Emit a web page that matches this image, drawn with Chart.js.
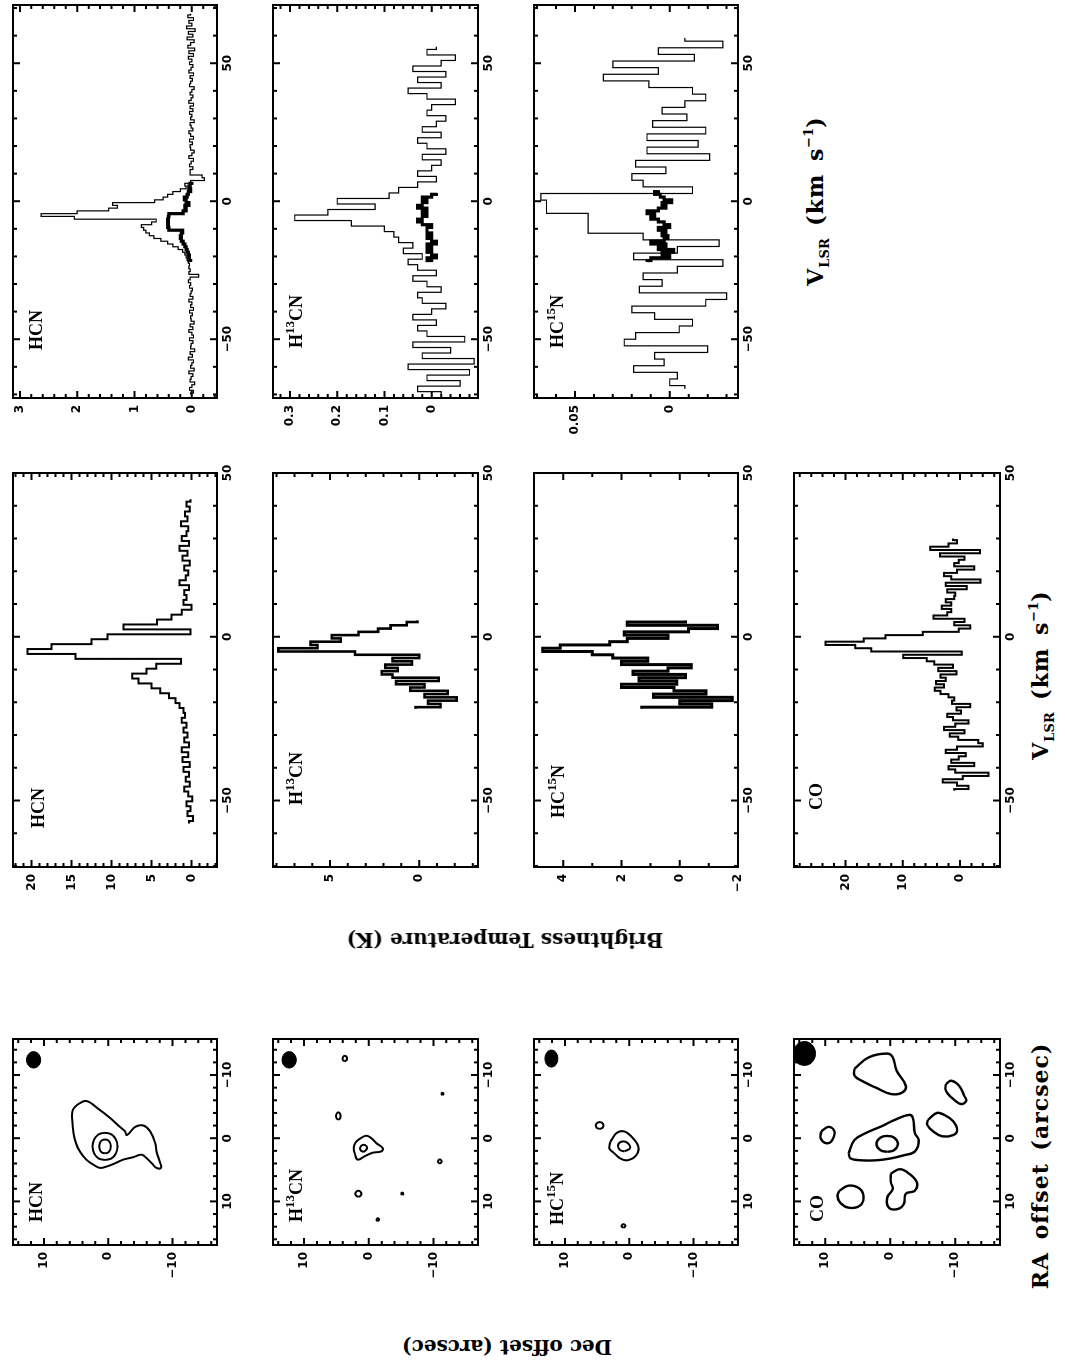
<!DOCTYPE html>
<html lang="en">
<head>
<meta charset="UTF-8">
<title>HCN, H13CN, HC15N and CO: maps and spectra</title>
<script src="https://cdn.jsdelivr.net/npm/chart.js@4.4.0/dist/chart.umd.min.js"></script>
<style>
    html, body { margin: 0; padding: 0; background: #fff; overflow: hidden; }
    /* the figure is laid out landscape and turned a quarter turn */
    #page {
        position: absolute; left: 0; top: 0;
        width: 1361px; height: 1065px; background: #fff;
        transform-origin: 0 0;
        transform: translate(0px, 1361px) rotate(-90deg);
    }
    #page canvas { position: absolute; }
    .tag {
        position: absolute; font-family: "Liberation Serif", serif; font-weight: bold;
        font-size: 18px; line-height: 18px; white-space: nowrap; color: #000;
    }
    .tag sup { font-size: 13px; line-height: 0; position: relative; top: -8px; vertical-align: baseline; }
    .title {
        position: absolute; font-family: "DejaVu Serif", serif; font-weight: bold;
        font-size: 20px; line-height: 24px; white-space: nowrap; color: #000;
    }
    .title.big { font-size: 22px; letter-spacing: 1px; word-spacing: 4px; }
    .title sub { font-size: 13px; line-height: 0; position: relative; top: 6px; vertical-align: baseline; letter-spacing: 0; }
    .title sup { font-size: 13px; line-height: 0; position: relative; top: -10px; vertical-align: baseline; letter-spacing: 0; }
</style>
</head>
<body>
<div id="page"></div>

<script>
    // ---------- spectra: first channel (km/s), channel width, brightness (K) ----------
    const hcnMidStart = -57, hcnMidStep = 1.5;
    const hcnMid = [0.3, -0.2, 0.5, 0.1, 0.6, -0.1, 0.4, 0.9, 0.2, 0.7, 0.3, 1.0, 0.2, 1.1, 0.4, 1.2, 0.3, 0.9, 0.5, 1.0,
        0.6, 1.2, 0.8, 1.0, 1.5, 2.0, 2.8, 3.9, 5.0, 6.6, 7.4, 5.6, 4.4, 1.3, 14.5, 20.5, 17.5, 12.5, 10.5, 0.1,
        8.5, 4.3, 2.5, 1.2, 0.0, 1.0, 0.6, 0.9, 0.3, 1.5, 0.7, 0.4, 0.9, 0.2, 1.1, 0.5, 1.5, 0.3, 1.2, 0.6,
        0.4, 1.3, 0.5, 0.8, 0.2, 0.6, 0.1];

    const h13cnMidStart = -22, h13cnMidStep = 1;
    const h13cnMid = [0.2, -1.2, -0.5, -2.1, -0.3, -1.6, 0.5, -0.3, 1.3, -1.1, 1.5, 2.1, 1.2, 1.9, 0.4, 1.5, 0.0, 3.6, 7.9, 5.7,
        6.1, 4.4, 4.9, 3.4, 2.3, 1.6, 0.7, 0.1];

    const hc15nMidStart = -22, hc15nMidStep = 1;
    const hc15nMid = [1.3, -1.1, 0.0, -1.8, 0.9, -0.9, 0.2, 2.0, 0.1, 1.4, -0.2, 1.6, 0.4, -0.4, 2.0, 1.1, 2.3, 3.0, 4.7, 4.1,
        2.4, 1.8, 0.4, 1.9, -0.3, -1.3, 1.8, -0.2];

    const coMidStart = -47, coMidStep = 1;
    const coMid = [1.0, -1.5, 0.5, 3.0, -0.5, -5.0, 0.8, 2.0, -2.5, 1.5, 0.2, -1.0, 2.5, 0.5, -4.0, -3.2, 0.3, 1.8, -0.8, 2.8,
        0.8, -1.5, 1.2, 2.2, -0.2, 0.6, -1.8, 1.4, 1.0, 2.0, 3.4, 4.4, 2.8, 4.2, 2.5, 3.4, 0.6, 3.8, 1.2,
        4.5, 5.8, 9.9, -0.3, 15.5, 18.3, 23.5, 16.8, 13.0, 6.5, 0.2, -1.8,
        1.0, -0.8, 4.6, 2.2, 1.5, 3.2, 1.5, 2.5, 1.0, 0.8, 2.2, -1.2, 2.5, -3.6, 1.5, 2.8, 0.5, -2.5, 1.0, 0.2,
        -0.8, 3.5, -3.5, 5.2, 2.0, 0.5, 1.2];

    const hcnWideStart = -70, hcnWideStep = 1;
    const hcnWide = [0.02, -0.03, 0.04, 0.00, -0.05, 0.03, 0.01, -0.02, 0.05, -0.04, 0.02, 0.00, -0.03, 0.06, -0.01,
        0.03, -0.05, 0.02, 0.01, -0.02, 0.04, -0.03, 0.00, 0.05, -0.02, 0.03, -0.04, 0.01, 0.02, -0.01,
        0.04, -0.03, 0.02, 0.00, 0.05, -0.02, 0.03, 0.01, -0.01, 0.04, 0.02, 0.06, 0.03, -0.12, 0.05,
        0.03, 0.05, 0.04, 0.06, 0.08, 0.10, 0.12, 0.16, 0.24, 0.33, 0.42, 0.54, 0.66, 0.74, 0.80,
        0.84, 0.88, 0.70, 0.62, 2.05, 2.63, 2.00, 1.45, 1.30, 1.38, 0.65, 0.50, 0.42, 0.33, 0.20,
        0.10, 0.12, 0.02, -0.22, -0.18, 0.03,
        0.03, -0.02, 0.04, 0.01, -0.03, 0.05, 0.00, -0.04, 0.02, 0.03, -0.01, 0.04, -0.03, 0.02, 0.05,
        -0.02, 0.01, 0.03, -0.04, 0.02, 0.00, 0.04, -0.02, 0.03, -0.03, 0.05, 0.01, -0.02, 0.03, 0.00,
        -0.04, 0.04, 0.02, -0.01, 0.03, -0.03, 0.05, 0.01, -0.02, 0.04, 0.00, 0.06, -0.03, 0.05, -0.05,
        0.07, 0.02, -0.04, 0.08, -0.02, 0.06, -0.06, 0.09, 0.00, 0.05, -0.03, 0.07, 0.02];
    const hcnCoreStart = -22, hcnCoreStep = 1;
    const hcnCore = [0.02, 0.05, 0.04, 0.06, 0.08, 0.10, 0.12, 0.15, 0.18, 0.20, 0.18, 0.16, 0.40, 0.42, 0.41,
        0.42, 0.41, 0.40, 0.15, 0.10, 0.12, 0.05, 0.10, 0.13, 0.08, 0.06, 0.02, 0.05, 0.03, 0.00];

    const h13cnWideStart = -70, h13cnWideStep = 2;
    const h13cnWide = [-0.02, 0.03, -0.06, 0.01, -0.08, 0.05, -0.09, 0.02, -0.04, 0.04,
        -0.07, 0.01, 0.03, -0.01, 0.04, 0.00, -0.03, 0.02, 0.03, -0.02,
        0.01, 0.04, -0.01, 0.03, 0.05, 0.02, 0.06, 0.04, 0.07, 0.08,
        0.10, 0.17, 0.29, 0.22, 0.12, 0.20, 0.09, 0.07, 0.03, -0.01,
        0.03, 0.00, -0.02, 0.02, -0.03, 0.01, 0.03, -0.02, 0.02, -0.01,
        -0.03, 0.01, 0.00, -0.05, 0.01, 0.05, -0.02, 0.03, -0.03, 0.04,
        -0.02, -0.05, 0.01, -0.01];
    const h13cnCoreStart = -22, h13cnCoreStep = 1;
    const h13cnCore = [0.00, 0.01, -0.01, 0.00, 0.01, 0.00, 0.01, -0.01, 0.00, 0.01, 0.00, 0.01, 0.01,
        0.00, 0.02, 0.03, 0.02, 0.01, 0.02, 0.01, 0.03, 0.02, 0.01, 0.02, 0.00, -0.01];

    const hc15nWideStart = -68, hc15nWideStep = 2.4;
    const hc15nWide = [-0.008, 0.000, -0.004, 0.019, 0.003, 0.008, -0.020, 0.024, 0.018, -0.005,
        -0.012, 0.008, 0.020, -0.019, -0.030, 0.016, 0.004, 0.014, -0.004, -0.028,
        0.019, -0.004, -0.026, 0.014, 0.043, 0.043, 0.043, 0.065, 0.065, 0.068,
        -0.012, 0.014, 0.020, 0.002, 0.018, -0.021, 0.012, -0.015, 0.012, -0.019,
        0.009, -0.009, 0.004, -0.008, -0.019, -0.012, 0.011, 0.035, 0.006, 0.030,
        -0.013, 0.006, -0.028, -0.008];
    const hc15nCoreStart = -22, hc15nCoreStep = 1;
    const hc15nCore = [0.012, 0.010, 0.000, 0.004, -0.002, 0.006, 0.002, 0.010, 0.003, 0.001, 0.004, 0.002,
        0.006, 0.000, 0.003, 0.006, 0.010, 0.008, 0.012, 0.006, 0.002, 0.004, -0.001, 0.003, 0.005, 0.008, 0.006];

    // ---------- maps: contour vertices [RA offset, Dec offset] in arcsec ----------
    const hcnOuter = [[-5.4, 4.7], [-5.9, 3.4], [-4.7, 1.6], [-3.2, -0.3], [-1.8, -1.8], [-1.1, -2.6], [-0.5, -2.9],
        [-1.8, -4.2], [-2.0, -5.5], [-1.1, -6.5], [0.8, -7.3], [2.1, -7.5], [4.0, -8.1], [4.7, -8.2], [4.7, -7.5],
        [4.0, -6.8], [3.2, -6.0], [2.6, -5.2], [3.0, -3.9], [3.4, -2.3], [4.0, -1.0], [4.5, 0.3], [4.7, 1.3],
        [4.2, 2.3], [3.4, 3.4], [2.1, 4.4], [0.8, 5.0], [-0.8, 5.4], [-2.9, 5.6], [-4.5, 5.5], [-5.4, 4.7]];
    const hcnRing = [[3.45, 0.5], [3.2, 1.5], [2.4, 2.2], [1.3, 2.45], [0.2, 2.2], [-0.6, 1.5], [-0.85, 0.5],
        [-0.6, -0.5], [0.2, -1.2], [1.3, -1.45], [2.4, -1.2], [3.2, -0.5], [3.45, 0.5]];
    const hcnPeak = [[2.4, 0.5], [2.25, 1.0], [1.85, 1.3], [1.3, 1.4], [0.75, 1.3], [0.35, 1.0], [0.2, 0.5],
        [0.35, 0.0], [0.75, -0.3], [1.3, -0.4], [1.85, -0.3], [2.25, 0.0], [2.4, 0.5]];
    const hcnBeam = [[-11.1, 11.6], [-11.27, 12.15], [-11.75, 12.55], [-12.4, 12.7], [-13.05, 12.55], [-13.53, 12.15],
        [-13.7, 11.6], [-13.53, 11.05], [-13.05, 10.65], [-12.4, 10.5], [-11.75, 10.65], [-11.27, 11.05], [-11.1, 11.6]];

    const h13cnOuter = [[0.3, 1.7], [-0.4, 0.4], [0.0, -0.4], [0.8, -1.2], [1.6, -2.2], [2.1, -1.9], [2.3, -0.6],
        [2.9, 0.7], [3.4, 1.7], [2.6, 2.1], [1.6, 2.3], [0.8, 2.1], [0.3, 1.7]];
    const h13cnPeak = [[2.2, 0.8], [1.9, 1.25], [1.4, 1.3], [1.05, 0.9], [1.2, 0.4], [1.7, 0.3], [2.2, 0.8]];
    const h13cnSpots = [
        [[-12.15, 3.7], [-12.4, 4.0], [-12.8, 4.0], [-13.05, 3.7], [-12.8, 3.4], [-12.4, 3.4], [-12.15, 3.7]],
        [[-2.9, 4.7], [-3.2, 5.0], [-3.8, 5.0], [-4.1, 4.7], [-3.8, 4.4], [-3.2, 4.4], [-2.9, 4.7]],
        [[9.3, 1.6], [9.05, 2.0], [8.55, 2.0], [8.3, 1.6], [8.55, 1.2], [9.05, 1.2], [9.3, 1.6]],
        [[13.15, -1.4], [12.9, -1.2], [12.65, -1.4], [12.9, -1.6], [13.15, -1.4]],
        [[9.0, -5.2], [8.8, -5.05], [8.6, -5.2], [8.8, -5.35], [9.0, -5.2]],
        [[4.05, -11.0], [3.7, -10.7], [3.35, -11.0], [3.7, -11.3], [4.05, -11.0]],
        [[-6.8, -11.4], [-7.0, -11.25], [-7.2, -11.4], [-7.0, -11.55], [-6.8, -11.4]]
    ];
    const h13cnBeam = [[-11.1, 12.3], [-11.27, 12.85], [-11.75, 13.25], [-12.4, 13.4], [-13.05, 13.25], [-13.53, 12.85],
        [-13.7, 12.3], [-13.53, 11.75], [-13.05, 11.35], [-12.4, 11.2], [-11.75, 11.35], [-11.27, 11.75], [-11.1, 12.3]];

    const hc15nOuter = [[0.5, 2.9], [-0.8, 2.0], [-1.1, 0.9], [-0.3, -0.3], [1.3, -1.4], [2.7, -1.1], [3.5, 0.3],
        [3.2, 1.4], [2.4, 2.3], [1.6, 3.1], [0.5, 2.9]];
    const hc15nPeak = [[2.1, 0.8], [1.8, 1.5], [1.0, 1.7], [0.5, 1.0], [0.8, 0.2], [1.6, -0.1], [2.1, 0.8]];
    const hc15nSpots = [
        [[-1.45, 4.6], [-1.7, 5.1], [-2.3, 5.1], [-2.55, 4.6], [-2.3, 4.1], [-1.7, 4.1], [-1.45, 4.6]],
        [[14.2, 0.9], [13.9, 1.2], [13.6, 0.9], [13.9, 0.6], [14.2, 0.9]]
    ];
    const hc15nBeam = [[-11.25, 12.1], [-11.42, 12.6], [-11.93, 12.97], [-12.6, 13.1], [-13.27, 12.97], [-13.78, 12.6],
        [-13.95, 12.1], [-13.78, 11.6], [-13.27, 11.23], [-12.6, 11.1], [-11.93, 11.23], [-11.42, 11.6], [-11.25, 12.1]];

    const coOuter = [[2.4, 6.4], [0.3, 5.5], [-0.8, 3.8], [-1.9, 1.3], [-2.9, -0.7], [-3.7, -2.9], [-3.2, -3.5],
        [-0.8, -3.8], [0.3, -4.4], [2.1, -3.8], [2.7, -2.1], [3.2, -0.1], [3.5, 2.2], [3.5, 4.4], [3.2, 6.1], [2.4, 6.4]];
    const coPeak = [[2.16, 0.45], [1.9, 1.5], [0.9, 2.1], [-0.1, 1.5], [-0.36, 0.45], [-0.1, -0.6], [0.9, -1.2],
        [1.9, -0.6], [2.16, 0.45]];
    const coClumps = [
        [[-11.0, 5.5], [-12.8, 3.3], [-13.4, 0.45], [-12.8, -0.4], [-10.7, -1.0], [-8.3, -2.4], [-7.2, -1.8],
            [-7.0, -0.1], [-8.0, 2.2], [-9.1, 4.4], [-9.9, 5.5], [-11.0, 5.5]],
        [[-8.6, -8.6], [-9.1, -9.4], [-8.3, -10.6], [-6.7, -11.4], [-5.9, -11.7], [-5.4, -10.9], [-6.2, -9.7],
            [-7.0, -8.9], [-7.8, -8.5], [-8.6, -8.6]],
        [[-2.9, -5.8], [-4.0, -7.2], [-3.7, -8.3], [-2.7, -9.7], [-1.3, -10.3], [-0.5, -9.7], [-0.3, -8.0],
            [-1.1, -6.6], [-2.1, -5.7], [-2.9, -5.8]],
        [[-1.1, 10.6], [-1.8, 9.5], [-1.1, 8.6], [0.3, 8.9], [0.8, 9.8], [0.0, 10.7], [-1.1, 10.6]],
        [[8.3, 7.8], [7.5, 6.4], [8.0, 4.7], [9.4, 4.1], [10.7, 4.7], [11.0, 6.4], [10.2, 7.7], [9.1, 8.1], [8.3, 7.8]],
        [[5.6, -0.1], [4.9, -1.5], [5.6, -2.9], [7.0, -4.1], [8.3, -3.8], [8.8, -2.4], [10.4, -2.1], [11.2, -1.2],
            [11.0, 0.2], [9.4, 0.45], [8.0, -0.4], [7.0, -0.1], [5.6, -0.1]]
    ];
    const coBeam = [[-11.5, 13.2], [-11.75, 14.05], [-12.45, 14.67], [-13.4, 14.9], [-14.35, 14.67], [-15.05, 14.05],
        [-15.3, 13.2], [-15.05, 12.35], [-14.35, 11.73], [-13.4, 11.5], [-12.45, 11.73], [-11.75, 12.35], [-11.5, 13.2]];

    // ---------- axis ranges ----------
    const midVel = {min: -70.3, max: 50, major: 50, minor: 10};
    const rightVel = {min: -71.3, max: 71.1, major: 50, minor: 10};
    const mapRA = {min: -15.7, max: 16.9, major: 10, minor: 2, reverse: true};
    const mapDec = {min: -16.9, max: 14.8, major: 10, minor: 2};

    // ---------- layout of the landscape page ----------
    const ROW_Y = [[13, 217], [273, 478], [534, 738], [794, 1000]];
    const MAP_X = [116, 322];
    const MID_X = [494, 888];
    const RIGHT_X = [963, 1356];
    const PAD_L = 52, PAD_B = 26, PAD_T = 16, PAD_R = 14;

    const page = document.getElementById('page');
    const tickFont = {family: 'DejaVu Sans', size: 12, weight: 'bold'};

    function fmt(v) {
        return String(Math.round(v * 1000) / 1000).replace('-', '\u2212');
    }

    // frame with inward ticks on all four sides
    function eachMark(scale, minor, major, draw) {
        const lo = Math.min(scale.min, scale.max), hi = Math.max(scale.min, scale.max);
        const ratio = Math.round(major / minor);
        for (let k = Math.ceil(lo / minor - 1e-9); k * minor <= hi + 1e-9; k++) {
            draw(scale.getPixelForValue(k * minor), k % ratio === 0 ? 7 : 4);
        }
    }
    const frameTicks = {
        id: 'frameTicks',
        afterDatasetsDraw(chart, args, opts) {
            const {ctx, chartArea: a} = chart;
            ctx.save();
            ctx.strokeStyle = '#000';
            ctx.lineWidth = 2;
            ctx.beginPath();
            eachMark(chart.scales.x, opts.x.minor, opts.x.major, (p, len) => {
                ctx.moveTo(p, a.bottom); ctx.lineTo(p, a.bottom - len);
                ctx.moveTo(p, a.top); ctx.lineTo(p, a.top + len);
            });
            eachMark(chart.scales.y, opts.y.minor, opts.y.major, (p, len) => {
                ctx.moveTo(a.left, p); ctx.lineTo(a.left + len, p);
                ctx.moveTo(a.right, p); ctx.lineTo(a.right - len, p);
            });
            ctx.stroke();
            ctx.strokeRect(a.left, a.top, a.right - a.left, a.bottom - a.top);
            ctx.restore();
        }
    };

    function scaleOpts(a, fit, pad) {
        return {
            type: 'linear', min: a.min, max: a.max, reverse: !!a.reverse,
            grid: {display: false, drawTicks: false},
            border: {display: false},
            ticks: {
                stepSize: a.major, includeBounds: false, autoSkip: false,
                maxRotation: 0, minRotation: 0, padding: pad,
                color: '#000', font: tickFont, callback: v => fmt(v)
            },
            afterFit: fit
        };
    }

    function panel(colX, row, xs, ys, datasets) {
        const [x0, x1] = colX;
        const [y0, y1] = ROW_Y[row];
        const w = x1 - x0 + PAD_L + PAD_R;
        const h = y1 - y0 + PAD_T + PAD_B;
        const cv = document.createElement('canvas');
        cv.width = w;
        cv.height = h;
        cv.style.left = (x0 - PAD_L) + 'px';
        cv.style.top = (y0 - PAD_T) + 'px';
        page.appendChild(cv);
        return new Chart(cv, {
            type: 'scatter',
            data: {datasets},
            options: {
                responsive: false,
                animation: false,
                events: [],
                layout: {padding: {top: PAD_T, right: PAD_R, left: 0, bottom: 0}},
                plugins: {
                    legend: {display: false},
                    tooltip: {enabled: false},
                    frameTicks: {x: xs, y: ys}
                },
                scales: {
                    x: scaleOpts(xs, s => { s.height = PAD_B; }, 4),
                    y: scaleOpts(ys, s => { s.width = PAD_L; }, 7)
                }
            },
            plugins: [frameTicks]
        });
    }

    function steps(start, step, values, width) {
        return {
            data: values.map((t, i) => ({x: start + i * step, y: t})),
            showLine: true, stepped: 'middle', borderColor: '#000', borderWidth: width,
            pointRadius: 0, fill: false
        };
    }
    function contour(pairs, width) {
        return {
            data: pairs.map(p => ({x: p[0], y: p[1]})),
            showLine: true, tension: 0.4, borderColor: '#000', borderWidth: width,
            pointRadius: 0, fill: false
        };
    }
    function beam(pairs) {
        return {
            data: pairs.map(p => ({x: p[0], y: p[1]})),
            showLine: true, tension: 0.4, borderColor: '#000', backgroundColor: '#000',
            borderWidth: 1, pointRadius: 0, fill: 'shape'
        };
    }

    // integrated-intensity maps
    panel(MAP_X, 0, mapRA, mapDec, [beam(hcnBeam), contour(hcnOuter, 2), contour(hcnRing, 2), contour(hcnPeak, 2)]);
    panel(MAP_X, 1, mapRA, mapDec, [beam(h13cnBeam), contour(h13cnOuter, 2), contour(h13cnPeak, 2)]
        .concat(h13cnSpots.map(s => contour(s, 2))));
    panel(MAP_X, 2, mapRA, mapDec, [beam(hc15nBeam), contour(hc15nOuter, 2), contour(hc15nPeak, 2)]
        .concat(hc15nSpots.map(s => contour(s, 2))));
    panel(MAP_X, 3, mapRA, mapDec, [beam(coBeam), contour(coOuter, 2.4), contour(coPeak, 2.4)]
        .concat(coClumps.map(s => contour(s, 2.4))));

    // peak spectra
    panel(MID_X, 0, midVel, {min: -3.2, max: 22.3, major: 5, minor: 1}, [steps(hcnMidStart, hcnMidStep, hcnMid, 2)]);
    panel(MID_X, 1, midVel, {min: -3.3, max: 8.2, major: 5, minor: 1}, [steps(h13cnMidStart, h13cnMidStep, h13cnMid, 2.6)]);
    panel(MID_X, 2, midVel, {min: -2, max: 5, major: 2, minor: 1}, [steps(hc15nMidStart, hc15nMidStep, hc15nMid, 3)]);
    panel(MID_X, 3, midVel, {min: -7, max: 29, major: 10, minor: 2}, [steps(coMidStart, coMidStep, coMid, 2)]);

    // broad-band spectra with the compact component overlaid
    panel(RIGHT_X, 0, rightVel, {min: -0.44, max: 3.12, major: 1, minor: 0.2},
        [steps(hcnWideStart, hcnWideStep, hcnWide, 1.2), steps(hcnCoreStart, hcnCoreStep, hcnCore, 3.2)]);
    panel(RIGHT_X, 1, rightVel, {min: -0.098, max: 0.336, major: 0.1, minor: 0.02},
        [steps(h13cnWideStart, h13cnWideStep, h13cnWide, 1.2), steps(h13cnCoreStart, h13cnCoreStep, h13cnCore, 3.2)]);
    panel(RIGHT_X, 2, rightVel, {min: -0.036, max: 0.0716, major: 0.05, minor: 0.01},
        [steps(hc15nWideStart, hc15nWideStep, hc15nWide, 1.2), steps(hc15nCoreStart, hc15nCoreStep, hc15nCore, 3.2)]);

    // species names inside the panels: [text, left, cap top]
    const tags = [
        ['HCN', 139, 30], ['H<sup>13</sup>CN', 139, 290], ['HC<sup>15</sup>N', 136, 551], ['CO', 139, 811],
        ['HCN', 533, 32], ['H<sup>13</sup>CN', 556, 290], ['HC<sup>15</sup>N', 543, 552], ['CO', 551, 810],
        ['HCN', 1011, 30], ['H<sup>13</sup>CN', 1013, 290], ['HC<sup>15</sup>N', 1013, 551]
    ];
    tags.forEach(([html, x, capTop]) => {
        const d = document.createElement('div');
        d.className = 'tag';
        d.innerHTML = html;
        d.style.left = x + 'px';
        d.style.top = (capTop - 3) + 'px';
        page.appendChild(d);
    });

    // axis titles: [text, centre x, centre y, vertical]
    const titles = [
        ['Dec offset (arcsec)', 14, 507, true, ''],
        ['Brightness Temperature (K)', 421, 505, true, ''],
        ['RA offset (arcsec)', 195, 1040, false, 'big'],
        ['V<sub>LSR</sub> (km s<sup>\u22121</sup>)', 686, 1040, false, 'big'],
        ['V<sub>LSR</sub> (km s<sup>\u22121</sup>)', 1160, 815, false, 'big']
    ];
    titles.forEach(([html, cx, cy, vertical, extra]) => {
        const d = document.createElement('div');
        d.className = 'title ' + extra;
        d.innerHTML = html;
        d.style.left = cx + 'px';
        d.style.top = cy + 'px';
        d.style.transform = 'translate(-50%, -50%)' + (vertical ? ' rotate(-90deg)' : '');
        page.appendChild(d);
    });
</script>
</body>
</html>
